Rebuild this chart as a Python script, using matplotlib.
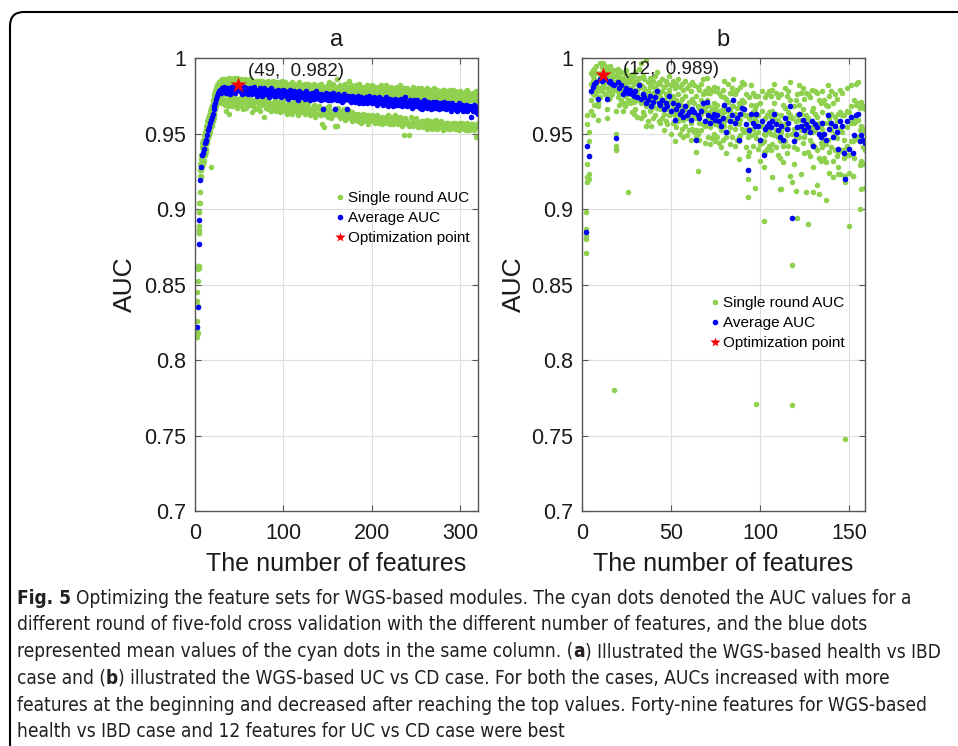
import numpy as np
import matplotlib
matplotlib.use('Agg')
import matplotlib.pyplot as plt
from matplotlib import font_manager
from matplotlib.lines import Line2D
from matplotlib.patches import FancyBboxPatch
from matplotlib.ticker import FuncFormatter

plt.rcParams['font.family'] = 'Liberation Sans'

# ---------------- data (AUC x 1000) ----------------
# panel a: health vs IBD, average AUC for 2..320 features
a_avg_feat = list(range(2, 321))
a_avg = [822, 835, 877, 893, 919, 928, 936, 937, 940, 944, 946, 945, 949, 952, 954,
         957, 959, 961, 963, 966, 968, 970, 973, 975, 977, 978, 979, 977, 979,
         980, 978, 981, 979, 977, 980, 978, 980, 979, 976,
         979, 981, 978, 980, 977, 979, 980, 980, 982, 979,
         978, 980, 976, 979, 981, 978, 977, 980, 979, 976,
         978, 980, 977, 979, 976, 978, 981, 977, 979, 975,
         978, 976, 980, 977, 979, 975, 978, 980, 976, 977,
         979, 976, 978, 974, 977, 980, 976, 978, 975, 977,
         978, 975, 977, 979, 976, 978, 974, 977, 976, 979,
         976, 978, 975, 977, 973, 976, 979, 975, 977, 974,
         976, 978, 974, 977, 975, 972, 976, 978, 974, 975,
         977, 974, 976, 973, 978, 975, 977, 974, 976, 972,
         975, 977, 974, 976, 973, 975, 978, 974, 976, 973,
         975, 972, 976, 974, 966, 975, 973, 977, 974, 972,
         975, 973, 976, 972, 974, 977, 973, 966, 975, 972,
         974, 976, 972, 975, 973, 971, 974, 976, 972, 974,
         973, 966, 975, 972, 974, 971, 973, 975, 972, 974,
         971, 974, 972, 975, 970, 973, 971, 974, 972, 970,
         973, 971, 974, 972, 970, 973, 975, 971, 973, 970,
         972, 974, 970, 973, 971, 969, 972, 974, 970, 973,
         971, 973, 969, 972, 970, 974, 971, 968, 972, 970,
         973, 970, 972, 968, 971, 973, 969, 971, 970, 972,
         969, 971, 973, 968, 970, 972, 969, 974, 970, 968,
         971, 969, 972, 970, 967, 971, 969, 972, 968, 970,
         972, 968, 970, 967, 971, 969, 966, 970, 972, 968,
         970, 967, 969, 971, 968, 970, 966, 969, 971, 967,
         969, 971, 967, 970, 968, 966, 970, 968, 967, 969,
         971, 967, 969, 966, 968, 970, 967, 969, 965, 968,
         970, 966, 968, 967, 969, 965, 968, 970, 966, 968,
         967, 969, 965, 968, 966, 969, 967, 965, 968, 966,
         968, 961, 967, 965, 969, 966, 968, 964, 967, 963]

# panel a: single round AUC (five rounds) per feature count
a_round_feat = list(range(2, 41)) + list(range(42, 321, 2))
a_round = [
    (815, 819, 826, 839, 845), (852, 860, 862, 836, 818), (884, 886, 862, 898, 861),
    (898, 904, 884, 886, 889), (911, 922, 926, 904, 930), (922, 933, 926, 936, 921),
    (930, 941, 935, 944, 928), (933, 946, 939, 930, 940), (938, 949, 943, 932, 937),
    (942, 951, 947, 936, 944), (944, 953, 940, 948, 945), (947, 955, 943, 950, 938),
    (950, 958, 946, 952, 944), (953, 960, 949, 956, 947), (955, 962, 951, 958, 949),
    (958, 965, 953, 960, 951), (960, 967, 928, 962, 957), (962, 969, 957, 964, 955),
    (964, 972, 958, 966, 960), (967, 974, 960, 969, 962), (969, 976, 963, 972, 964),
    (971, 978, 966, 974, 967), (973, 980, 968, 977, 970), (976, 982, 970, 978, 972),
    (978, 983, 971, 980, 973), (979, 984, 972, 981, 974), (980, 985, 973, 982, 975),
    (978, 984, 970, 981, 975), (979, 985, 971, 983, 976), (981, 986, 973, 984, 977),
    (979, 985, 970, 983, 976), (982, 986, 972, 984, 978), (980, 985, 969, 983, 977),
    (978, 984, 965, 982, 976), (981, 986, 970, 984, 978), (979, 985, 968, 983, 975),
    (982, 987, 972, 985, 979), (980, 985, 963, 983, 977), (977, 984, 970, 982, 975),
    (986, 972, 983, 968, 980), (985, 970, 982, 975, 987), (984, 969, 981, 973, 986),
    (987, 971, 983, 967, 980), (985, 973, 984, 970, 979), (986, 968, 982, 974, 981),
    (984, 971, 985, 966, 978), (983, 970, 980, 974, 986), (985, 967, 982, 972, 979),
    (984, 972, 983, 969, 980), (986, 969, 981, 973, 977), (983, 964, 980, 971, 985),
    (985, 970, 982, 968, 978), (984, 966, 979, 972, 983), (982, 971, 985, 967, 978),
    (984, 968, 980, 973, 976), (983, 965, 981, 970, 985), (985, 969, 978, 972, 980),
    (982, 961, 984, 970, 977), (984, 967, 979, 973, 981), (983, 970, 985, 966, 978),
    (981, 968, 980, 971, 984), (984, 965, 982, 969, 977), (982, 970, 979, 967, 985),
    (983, 966, 981, 972, 976), (981, 969, 984, 965, 978), (984, 967, 980, 971, 975),
    (982, 964, 983, 970, 977), (980, 968, 985, 966, 979), (983, 970, 978, 972, 981),
    (981, 965, 984, 968, 976), (982, 969, 979, 963, 983), (980, 966, 982, 970, 977),
    (983, 968, 978, 964, 981), (981, 963, 984, 969, 975), (979, 967, 980, 971, 983),
    (982, 965, 977, 968, 980), (980, 962, 983, 970, 976), (981, 968, 978, 965, 984),
    (979, 964, 982, 969, 977), (982, 966, 976, 971, 980), (980, 963, 983, 967, 978),
    (978, 968, 981, 964, 975), (981, 965, 977, 970, 983), (979, 962, 980, 967, 976),
    (982, 966, 978, 963, 981), (980, 964, 983, 969, 975), (978, 961, 979, 966, 982),
    (981, 967, 976, 963, 980), (979, 963, 982, 968, 977), (977, 965, 980, 962, 983),
    (980, 956, 978, 966, 975), (978, 954, 981, 964, 979), (981, 962, 977, 967, 976),
    (979, 965, 982, 961, 978), (977, 963, 979, 968, 984), (980, 960, 976, 965, 981),
    (978, 964, 983, 962, 977), (981, 955, 978, 966, 975), (979, 955, 986, 963, 980),
    (977, 962, 980, 967, 976), (980, 960, 978, 964, 982), (978, 965, 975, 961, 981),
    (976, 962, 980, 966, 977), (979, 959, 977, 963, 983), (977, 964, 981, 960, 975),
    (980, 961, 978, 965, 985), (978, 963, 975, 960, 982), (976, 958, 980, 964, 977),
    (979, 962, 977, 959, 981), (977, 960, 982, 963, 975), (975, 963, 978, 958, 980),
    (978, 959, 976, 962, 983), (976, 961, 980, 957, 977), (979, 958, 975, 963, 981),
    (977, 962, 979, 960, 976), (975, 959, 982, 961, 978), (978, 956, 976, 962, 981),
    (976, 960, 979, 958, 975), (979, 962, 977, 959, 982), (977, 958, 980, 961, 976),
    (975, 961, 978, 957, 981), (978, 959, 975, 962, 977), (976, 957, 981, 960, 979),
    (974, 960, 977, 958, 982), (977, 956, 979, 961, 975), (975, 959, 976, 957, 980),
    (978, 961, 982, 959, 977), (976, 957, 975, 962, 979), (974, 960, 980, 956, 976),
    (977, 958, 976, 961, 981), (975, 956, 979, 959, 977), (978, 959, 974, 962, 980),
    (976, 957, 981, 958, 975), (974, 960, 977, 956, 979), (977, 958, 975, 961, 982),
    (975, 955, 980, 959, 976), (973, 949, 977, 957, 980), (976, 958, 974, 960, 978),
    (974, 956, 980, 958, 975), (977, 949, 976, 955, 979), (975, 957, 978, 961, 974),
    (973, 955, 981, 958, 977), (976, 958, 975, 956, 979), (974, 956, 979, 960, 976),
    (977, 954, 974, 957, 980), (975, 957, 977, 955, 973), (973, 955, 980, 958, 976),
    (976, 958, 974, 954, 978), (974, 956, 979, 957, 975), (977, 953, 975, 959, 980),
    (975, 957, 978, 955, 973), (973, 954, 976, 958, 979), (976, 956, 974, 953, 977),
    (974, 958, 980, 956, 975), (972, 955, 976, 959, 978), (975, 953, 979, 956, 973),
    (973, 957, 975, 954, 977), (976, 955, 978, 958, 974), (974, 952, 976, 956, 979),
    (972, 956, 979, 954, 975), (975, 954, 974, 957, 977), (973, 957, 978, 953, 976),
    (976, 953, 975, 956, 979), (974, 956, 977, 954, 973), (972, 954, 979, 957, 975),
    (975, 957, 974, 953, 978), (973, 953, 977, 956, 974), (976, 956, 975, 952, 977),
    (974, 954, 978, 957, 973), (972, 957, 974, 954, 976), (975, 953, 977, 956, 972),
    (973, 956, 975, 952, 978), (971, 954, 979, 957, 974), (974, 952, 976, 955, 977),
    (972, 956, 973, 953, 975), (975, 953, 977, 956, 972), (973, 955, 974, 952, 976),
    (971, 948, 978, 955, 973), (974, 954, 975, 957, 971)]

# panel b: UC vs CD, average AUC for 2..159 features
b_feat = list(range(2, 160))
b_avg = [885, 942, 935, 978, 981, 983, 984, 973, 986, 985,
         989, 986, 973, 984, 985, 983, 982, 947, 984, 980,
         982, 976, 978, 980, 977, 979, 976, 975, 978, 974,
         982, 973, 976, 974, 970, 972, 975, 968, 971, 974,
         978, 970, 969, 972, 966, 970, 968, 975, 965, 970,
         959, 966, 969, 963, 965, 961, 968, 962, 964, 959,
         966, 964, 946, 962, 960, 965, 970, 958, 971, 962,
         957, 961, 963, 959, 962, 958, 955, 960, 969, 951,
         966, 958, 962, 972, 957, 960, 946, 963, 967, 966,
         956, 926, 952, 963, 957, 955, 963, 955, 946, 958,
         936, 953, 955, 957, 954, 958, 963, 956, 952, 948,
         955, 946, 960, 953, 957, 968, 894, 945, 950, 954,
         963, 955, 959, 952, 956, 954, 951, 958, 942, 956,
         954, 950, 948, 957, 950, 946, 962, 953, 957, 948,
         955, 951, 940, 958, 955, 937, 920, 958, 940, 961,
         937, 949, 962, 963, 945, 949, 946, 944]

# panel b: single round AUC (five rounds) per feature count
b_round = [
    (898, 887, 882, 871, 880), (962, 956, 930, 918, 921), (920, 945, 951, 923, 935),
    (983, 990, 965, 972, 978), (988, 985, 962, 976, 992), (993, 978, 986, 969, 990),
    (990, 982, 975, 995, 979), (985, 959, 978, 970, 968), (997, 988, 980, 974, 990),
    (994, 986, 978, 981, 990), (997, 990, 985, 982, 991), (992, 988, 976, 984, 995),
    (986, 960, 975, 980, 966), (993, 985, 978, 973, 990), (995, 988, 982, 974, 987),
    (990, 987, 980, 976, 984), (992, 780, 984, 979, 988), (965, 950, 942, 939, 940),
    (993, 986, 978, 974, 990), (988, 982, 976, 969, 985), (991, 985, 979, 972, 984),
    (987, 980, 970, 965, 979), (990, 983, 975, 968, 976), (992, 984, 977, 970, 980),
    (911, 987, 980, 972, 985), (989, 984, 976, 970, 980), (986, 980, 972, 964, 979),
    (988, 983, 971, 963, 975), (991, 984, 975, 966, 978), (985, 979, 972, 961, 976),
    (993, 987, 980, 974, 983), (997, 982, 973, 960, 970), (988, 981, 974, 964, 977),
    (986, 980, 972, 962, 975), (999, 975, 968, 955, 970), (984, 978, 969, 958, 972),
    (987, 981, 973, 965, 976), (982, 974, 966, 955, 969), (985, 977, 968, 960, 971),
    (988, 980, 972, 962, 975), (991, 983, 976, 967, 979), (984, 976, 967, 958, 970),
    (983, 974, 966, 957, 968), (986, 978, 970, 960, 972), (981, 972, 963, 952, 966),
    (985, 976, 968, 958, 969), (983, 975, 966, 956, 970), (988, 979, 971, 962, 976),
    (982, 972, 963, 950, 965), (985, 975, 966, 957, 969), (980, 968, 958, 945, 962),
    (983, 972, 964, 954, 966), (986, 976, 967, 958, 970), (981, 970, 961, 950, 964),
    (983, 973, 964, 953, 967), (979, 968, 959, 948, 961), (985, 975, 966, 955, 968),
    (980, 969, 960, 949, 962), (982, 971, 962, 952, 965), (978, 966, 957, 946, 959),
    (984, 973, 964, 953, 966), (982, 970, 961, 951, 964), (975, 960, 948, 938, 952),
    (981, 968, 925, 950, 962), (979, 967, 957, 946, 960), (983, 972, 963, 952, 965),
    (986, 976, 967, 956, 970), (978, 965, 955, 944, 958), (987, 977, 968, 957, 972),
    (980, 969, 960, 948, 962), (977, 964, 954, 943, 957), (979, 967, 958, 947, 961),
    (981, 970, 960, 950, 963), (978, 966, 956, 945, 959), (980, 969, 959, 948, 962),
    (977, 965, 955, 944, 958), (975, 962, 952, 941, 955), (979, 967, 957, 946, 960),
    (985, 974, 964, 955, 969), (973, 959, 948, 937, 951), (983, 971, 961, 951, 965),
    (977, 965, 954, 943, 958), (980, 968, 958, 948, 962), (986, 977, 968, 958, 972),
    (976, 963, 953, 942, 957), (979, 967, 957, 946, 960), (970, 956, 945, 933, 948),
    (981, 969, 959, 949, 963), (984, 972, 963, 953, 967), (983, 971, 962, 951, 966),
    (976, 962, 952, 941, 956), (908, 948, 935, 926, 920), (974, 960, 949, 938, 953),
    (982, 969, 959, 949, 963), (977, 964, 953, 942, 957), (914, 961, 950, 966, 975),
    (771, 969, 958, 947, 963), (975, 962, 951, 940, 955), (970, 955, 943, 932, 946),
    (978, 965, 955, 944, 958), (892, 950, 938, 928, 945), (974, 960, 949, 938, 953),
    (976, 962, 951, 940, 955), (978, 964, 953, 942, 957), (975, 961, 950, 939, 954),
    (979, 965, 921, 943, 958), (983, 970, 960, 949, 963), (977, 963, 952, 941, 956),
    (974, 959, 948, 936, 952), (913, 957, 945, 934, 949), (976, 962, 951, 913, 955),
    (969, 954, 942, 931, 946), (980, 967, 956, 945, 960), (975, 960, 949, 937, 953),
    (978, 964, 953, 942, 957), (984, 972, 962, 922, 968), (863, 770, 918, 960, 950),
    (968, 953, 941, 930, 945), (972, 958, 947, 912, 950), (976, 962, 894, 940, 954),
    (982, 969, 959, 948, 963), (977, 963, 952, 923, 955), (980, 966, 955, 944, 959),
    (973, 959, 948, 937, 952), (977, 962, 951, 911, 956), (976, 960, 890, 938, 954),
    (974, 958, 946, 935, 951), (979, 965, 954, 943, 958), (967, 951, 911, 928, 942),
    (978, 963, 952, 941, 956), (977, 961, 916, 939, 954), (972, 957, 910, 934, 950),
    (970, 955, 944, 932, 948), (978, 964, 953, 941, 957), (972, 957, 946, 934, 950),
    (969, 906, 943, 931, 946), (982, 968, 957, 946, 962), (975, 960, 924, 938, 953),
    (978, 963, 952, 941, 957), (970, 955, 921, 932, 948), (976, 961, 950, 939, 955),
    (973, 958, 947, 935, 951), (963, 928, 938, 923, 940), (979, 964, 953, 923, 958),
    (977, 962, 951, 939, 955), (962, 946, 934, 922, 937), (748, 935, 922, 918, 940),
    (980, 965, 954, 942, 958), (964, 889, 936, 924, 940), (982, 968, 957, 945, 961),
    (960, 945, 922, 922, 937), (972, 957, 946, 934, 949), (983, 969, 958, 947, 962),
    (984, 970, 959, 948, 963), (967, 952, 900, 929, 945), (971, 955, 913, 932, 949),
    (968, 953, 941, 930, 946), (966, 951, 939, 914, 944)]

best_a = (49, 982)
best_b = (12, 989)

green = '#8fd14f'
blue = '#0000ff'
red = '#ff0000'
axis_col = '#555555'
W, H = 958, 746

fig = plt.figure(figsize=(W / 100, H / 100), dpi=100)


def px_axes(l, t, r, b):
    return fig.add_axes([l / W, 1 - b / H, (r - l) / W, (b - t) / H])


def style(ax, xmax, xticks, title, ylab_x):
    ax.set_xlim(0, xmax)
    ax.set_ylim(0.7, 1.0)
    ax.set_xticks(xticks)
    ax.set_yticks(np.arange(0.7, 1.001, 0.05))
    ax.yaxis.set_major_formatter(FuncFormatter(lambda v, p: '%g' % round(v, 2)))
    ax.grid(True, color='#dddddd', lw=0.8)
    ax.set_axisbelow(True)
    ax.tick_params(direction='in', top=True, right=True, length=4, width=0.8,
                   color=axis_col, labelsize=15.5, labelcolor='#1a1a1a')
    ax.tick_params(axis='x', pad=8.5)
    ax.tick_params(axis='y', pad=6.5)
    for s in ax.spines.values():
        s.set_color(axis_col)
        s.set_linewidth(1)
    ax.set_title(title, fontsize=17, pad=9, color='#1a1a1a')
    ax.set_xlabel('The number of features', fontsize=18, color='#1a1a1a')
    ax.set_ylabel('AUC', fontsize=19, color='#1a1a1a')
    ax.xaxis.set_label_coords(0.5, -0.09)
    ax.yaxis.set_label_coords(ylab_x, 0.5)


def draw(ax, rfeat, rounds, afeat, avg, best, txt_off, leg_anchor):
    rx = np.repeat(rfeat, 5)
    ry = np.array(rounds).ravel() / 1000
    ax.plot(rx, ry, 'o', ms=4.0, color=green, mec='none', ls='none')
    ax.plot(afeat, np.array(avg) / 1000, 'o', ms=4.0, color=blue, mec='none', ls='none')
    ax.plot(best[0], best[1] / 1000, '*', ms=12, color=red, mec='none')
    ax.annotate('(%d,  %.3f)' % (best[0], best[1] / 1000), xy=(best[0], best[1] / 1000),
                xytext=txt_off, textcoords='offset points', va='center', ha='left',
                fontsize=13.5, color='#1a1a1a')
    handles = [Line2D([], [], ls='none', marker='o', ms=4, color=green, mec='none'),
               Line2D([], [], ls='none', marker='o', ms=4, color=blue, mec='none'),
               Line2D([], [], ls='none', marker='*', ms=7, color=red, mec='none')]
    ax.legend(handles, ['Single round AUC', 'Average AUC', 'Optimization point'],
              loc='upper left', bbox_to_anchor=leg_anchor, frameon=False, fontsize=11,
              handlelength=0.6, handletextpad=0.25, borderpad=0, borderaxespad=0,
              labelspacing=0.39)


axA = px_axes(195, 58, 478, 511)
axB = px_axes(582, 58, 865, 511)
style(axA, 320, [0, 100, 200, 300], 'a', -0.205)
style(axB, 159, [0, 50, 100, 150], 'b', -0.198)
draw(axA, a_round_feat, a_round, a_avg_feat, a_avg, best_a, (7, 10), (0.496, 0.706))
draw(axB, b_feat, b_round, b_feat, b_avg, best_b, (14, 4), (0.454, 0.474))

# rounded frame around the figure
frame = FancyBboxPatch((0.10, -0.5), 12, (H - 12) / 100 + 0.5,
                       boxstyle='round,pad=0,rounding_size=0.14',
                       transform=fig.dpi_scale_trans, fill=False, ec='black', lw=1.5)
fig.patches.append(frame)
frame.set_figure(fig)

# caption: a condensed face if one is installed, size fitted to the line widths
cond = font_manager.FontProperties(family='DejaVu Sans', stretch='condensed')
if 'Condensed' in font_manager.findfont(cond, fallback_to_default=False):
    cap_kw = dict(family='DejaVu Sans', stretch='condensed')
else:
    cap_kw = dict(family='Roboto')
cap_col = '#231f20'
caption = [
    [('Fig. 5', True), (' ', False), ('Optimizing the feature sets for WGS-based modules. The cyan dots denoted the AUC values for a', False)],
    [('different round of five-fold cross validation with the different number of features, and the blue dots', False)],
    [('represented mean values of the cyan dots in the same column. (', False), ('a', True), (') Illustrated the WGS-based health vs IBD', False)],
    [('case and (', False), ('b', True), (') illustrated the WGS-based UC vs CD case. For both the cases, AUCs increased with more', False)],
    [('features at the beginning and decreased after reaching the top values. Forty-nine features for WGS-based', False)],
    [('health vs IBD case and 12 features for UC vs CD case were best', False)],
]
renderer = fig.canvas.get_renderer()


def text_w(s, bold, size):
    if s == ' ':
        return text_w('x x', False, size) - text_w('xx', False, size)
    t = fig.text(0, 0, s, fontsize=size, fontweight='bold' if bold else 'normal', **cap_kw)
    w = t.get_window_extent(renderer).width
    t.remove()
    return w


# total width of the first five lines in the reference is about 4448 px
ref_total = 4448
cur_total = sum(text_w(s, b, 10) for line in caption[:5] for s, b in line)
cap_size = 10 * ref_total / cur_total
y = 598
for line in caption:
    x = 17
    for s, bold in line:
        if s != ' ':
            fig.text(x / W, 1 - y / H, s, fontsize=cap_size,
                     fontweight='bold' if bold else 'normal', color=cap_col,
                     va='center', ha='left', **cap_kw)
        x += text_w(s, bold, cap_size)
    y += 26.8

fig.savefig('out.png', dpi=100)
